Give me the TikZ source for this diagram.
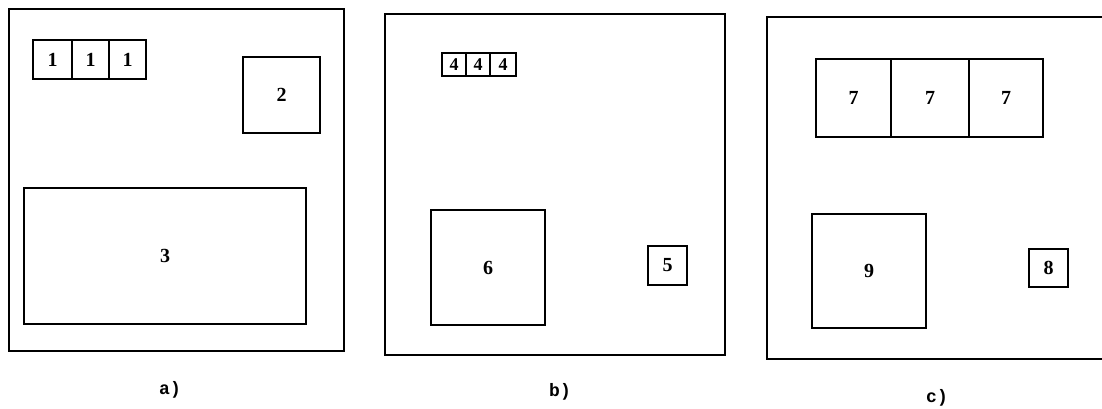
\documentclass[tikz,border=0pt]{standalone}
\usepackage{fontspec}
\setmainfont{Liberation Serif}
\setmonofont{Liberation Mono}
\begin{document}
\begin{tikzpicture}[x=1pt,y=-1pt,
  frm/.style={draw,line width=1.8pt,inner sep=0pt},
  bx/.style={draw,line width=1.7pt,inner sep=0pt,font=\fontsize{20}{20}\selectfont\bfseries},
  sbx/.style={draw,line width=1.5pt,inner sep=0pt,font=\fontsize{18}{18}\selectfont\bfseries},
  capt/.style={inner sep=1pt,font=\fontsize{18}{18}\selectfont\ttfamily\bfseries}]
\useasboundingbox (0,0) rectangle (1102,408);
\clip (0,0) rectangle (1102,408);
% panel a
\node[frm,minimum width=335pt,minimum height=342pt] (frameA) at (176.5,180) {};
\node[bx,minimum width=39pt,minimum height=39pt] (a1) at (52.5,59.5) {1};
\node[bx,minimum width=37pt,minimum height=39pt] (a2) at (90.5,59.5) {1};
\node[bx,minimum width=37pt,minimum height=39pt] (a3) at (127.5,59.5) {1};
\node[bx,minimum width=77pt,minimum height=76pt] (box2) at (281.5,95) {2};
\node[bx,minimum width=282pt,minimum height=136pt] (box3) at (165,256) {3};
\node[capt] (capA) at (170,390) {a)};
% panel b
\node[frm,minimum width=340pt,minimum height=341pt] (frameB) at (555,184.5) {};
\node[sbx,minimum width=24pt,minimum height=23pt] (b1) at (454,64.5) {4};
\node[sbx,minimum width=24pt,minimum height=23pt] (b2) at (478,64.5) {4};
\node[sbx,minimum width=26pt,minimum height=23pt] (b3) at (503,64.5) {4};
\node[bx,minimum width=114pt,minimum height=115pt] (box6) at (488,267.5) {6};
\node[bx,minimum width=39pt,minimum height=39pt] (box5) at (667.5,265.5) {5};
\node[capt] (capB) at (560,392) {b)};
% panel c
\node[frm,minimum width=348pt,minimum height=342pt] (frameC) at (941,188) {};
\node[bx,minimum width=75pt,minimum height=78pt] (c1) at (853.5,98) {7};
\node[bx,minimum width=78pt,minimum height=78pt] (c2) at (930,98) {7};
\node[bx,minimum width=74pt,minimum height=78pt] (c3) at (1006,98) {7};
\node[bx,minimum width=114pt,minimum height=114pt] (box9) at (869,271) {9};
\node[bx,minimum width=39pt,minimum height=38pt] (box8) at (1048.5,268) {8};
\node[capt] (capC) at (937,398) {c)};
\end{tikzpicture}
\end{document}
